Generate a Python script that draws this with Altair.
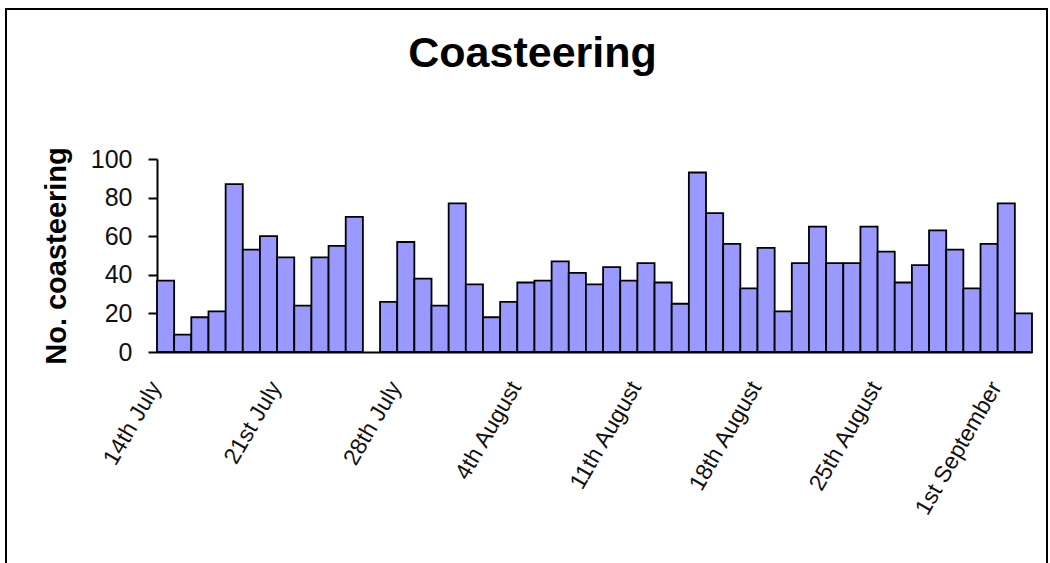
import altair as alt
import pandas as pd

FONT = "Liberation Sans"

title_text = "Coasteering"
y_title = "No. coasteering"

months = ["July"] * 18 + ["August"] * 31 + ["September"] * 2
day_numbers = list(range(14, 32)) + list(range(1, 32)) + [1, 2]


def suffix(d):
    if d in (11, 12, 13):
        return "th"
    return {1: "st", 2: "nd", 3: "rd"}.get(d % 10, "th")


days = [f"{d}{suffix(d)} {m}" for d, m in zip(day_numbers, months)]

counts = [37, 9, 18, 21, 87, 53, 60, 49, 24, 49, 55, 70, None, 26, 57, 38, 24,
          77, 35, 18, 26, 36, 37, 47, 41, 35, 44, 37, 46, 36, 25, 93, 72, 56,
          33, 54, 21, 46, 65, 46, 46, 65, 52, 36, 45, 63, 53, 33, 56, 77, 20]

tick_labels = ["14th July", "21st July", "28th July", "4th August",
               "11th August", "18th August", "25th August", "1st September"]
y_ticks = [0, 20, 40, 60, 80, 100]

df = pd.DataFrame({"day": days, "count": counts})

bars = alt.Chart(df).mark_bar(
    color="#9999FF", stroke="black", strokeWidth=1.8
).encode(
    x=alt.X(
        "day:N", sort=days,
        scale=alt.Scale(paddingInner=0, paddingOuter=0),
        axis=alt.Axis(
            values=tick_labels, labelAngle=-60, ticks=False, title=None,
            domainColor="black", domainWidth=2, labelFontSize=23,
            labelFont=FONT, labelColor="#111111", labelPadding=31,
            labelOffset=-10, labelOverlap=False,
        ),
    ),
    y=alt.Y(
        "count:Q",
        scale=alt.Scale(domain=[0, 100]),
        axis=alt.Axis(
            values=y_ticks, title=y_title, grid=False,
            domainColor="black", domainWidth=2, tickColor="black",
            tickWidth=2, tickSize=9, labelFontSize=25, labelFont=FONT,
            labelColor="#111111", labelPadding=16, titleFontSize=29,
            titleFont=FONT, titleFontWeight="bold", titleColor="black",
            titlePadding=19,
        ),
    ),
)

frame = alt.Chart(pd.DataFrame({"k": [0]})).mark_rect(
    fillOpacity=0, stroke="black", strokeWidth=2
).encode(
    x=alt.value(-151), x2=alt.value(890), y=alt.value(-150), y2=alt.value(430)
)

chart = alt.layer(frame, bars).properties(
    width=875,
    height=193,
    autosize="none",
    padding={"left": 157, "top": 159, "right": 18, "bottom": 211},
    title=alt.TitleParams(
        title_text, fontSize=43, font=FONT, fontWeight="bold", color="black",
        dx=-62, offset=-102, baseline="alphabetic",
    ),
).configure_view(strokeWidth=0)

chart.save("out.html", embed_options={"renderer": "svg", "actions": False})
